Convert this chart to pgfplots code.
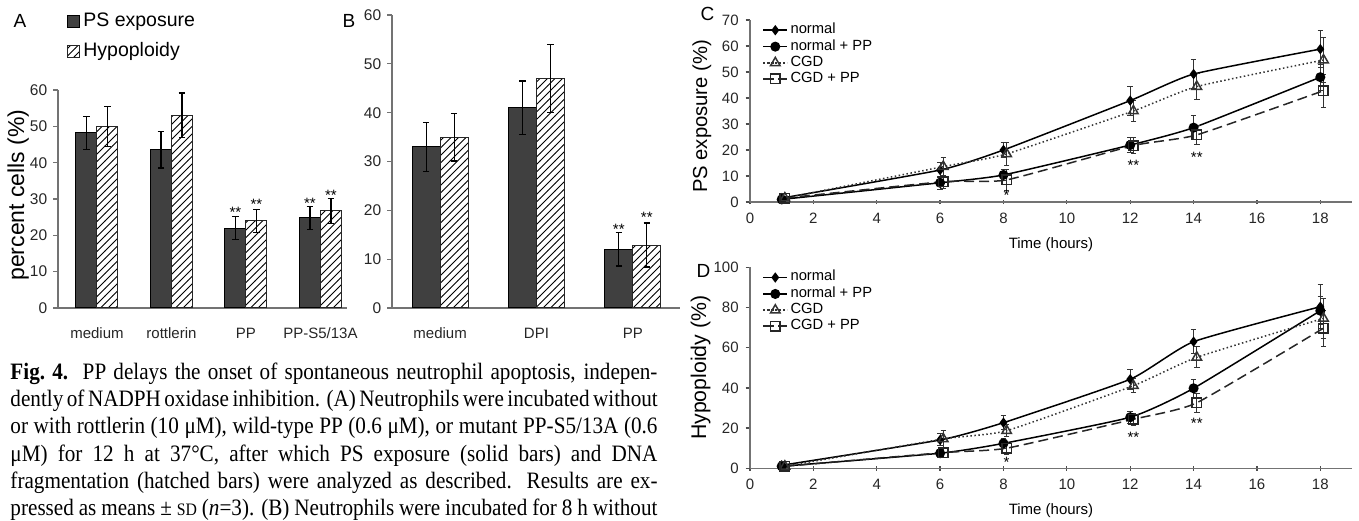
\documentclass[border=0pt]{standalone}
\usepackage{pgfplots}
\pgfplotsset{compat=1.18}
\usepackage{pgfplotstable}
\usetikzlibrary{patterns}
\usepackage{fontspec}
\setmainfont{Liberation Sans}
\newfontfamily\capfont[FakeStretch=0.9]{Liberation Serif}
\newcommand{\fs}[1]{\fontsize{#1}{#1}\selectfont}

% panel A: value, sd
\pgfplotstableread{
x ps   pse hy   hye
0 48.2 4.6 49.9 5.5
1 43.5 5.0 53.1 6.1
2 22.0 3.1 24.0 3.2
3 24.8 3.1 26.7 3.5
}\dataA
% panel B
\pgfplotstableread{
x ps   pse hy   hye
0 33.0 5.0 35.0 4.9
1 41.0 5.5 47.0 7.0
2 12.0 3.4 12.9 4.5
}\dataB
% panel C (time courses, PS exposure)
\pgfplotstableread{
t v e
1 1.5 0.5
6 12.3 3.0
8 20.0 3.0
12 39.0 5.6
14 49.2 5.7
18 58.8 7.0
}\CnA
\pgfplotstableread{
t v e
1 1.0 0.5
6 7.4 2.5
8 10.4 2.0
12 21.9 3.0
14 28.6 4.6
18 48.0 5.0
}\CnB
\pgfplotstableread{
t v e
1.1 1.5 0.5
6.1 13.6 3.5
8.1 18.5 4.5
12.1 35.0 4.0
14.1 44.4 5.0
18.1 54.6 8.5
}\CcA
\pgfplotstableread{
t v e
1.1 1.5 0.5
6.1 7.8 2.5
8.1 8.5 4.0
12.1 21.7 3.0
14.1 25.8 3.5
18.1 42.8 6.3
}\CcB
% panel D (hypoploidy)
\pgfplotstableread{
t v e
1 1.5 0.5
6 14.1 3.0
8 22.7 3.4
12 44.3 5.0
14 63.0 6.0
18 80.4 11.0
}\DnA
\pgfplotstableread{
t v e
1 1.0 0.5
6 7.5 2.0
8 12.4 2.5
12 25.4 3.0
14 39.8 4.5
18 78.4 7.0
}\DnB
\pgfplotstableread{
t v e
1.1 1.0 0.5
6.1 14.6 4.4
8.1 18.7 3.0
12.1 41.1 3.5
14.1 55.2 5.3
18.1 74.6 10.0
}\DcA
\pgfplotstableread{
t v e
1.1 1.0 0.5
6.1 7.8 2.5
8.1 10.0 3.0
12.1 24.4 3.0
14.1 32.6 4.6
18.1 69.7 9.0
}\DcB

\pgfplotsset{
  common/.style={
    scale only axis, axis x line=bottom, axis y line=left,
    axis line style={-, black!55, line width=0.6pt},
    /pgf/number format/assume math mode=true,
    tick align=outside, clip=false,
  },
  barax/.style={
    common, ybar=0pt, ymin=0, ymax=60, ytick={0,10,...,60},
    xtick={0,1,2,3}, major x tick style={draw=none},
    ytick style={black!55, line width=0.5pt}, major tick length=2pt,
    yticklabel style={font=\fs{6.2}, black!85, xshift=1.2pt},
    xticklabel style={font=\fs{6}, black!85, yshift=-2.5pt},
  },
  errs/.style={error bars/.cd, y dir=both, y explicit,
    error bar style={black, line width=0.5pt},
    error mark options={rotate=90, mark size=1.3pt, black, line width=0.5pt}},
  dark/.style={fill=black!75, draw=black, errs},
  hatch/.style={pattern=north east lines, draw=black!85, errs},
  lineax/.style={
    common, xmin=0, xmax=19, xtick={0,2,...,18},
    major tick length=1.8pt, xtick align=center,
    tick style={black!70, line width=0.5pt},
    ticklabel style={font=\fs{6}, black!85},
    yticklabel style={xshift=0.8pt},
    xlabel={Time (hours)}, label style={font=\fs{6}},
    legend style={draw=none, fill=none, font=\fs{5.9}, anchor=north west,
      inner sep=0pt, row sep=-1.2pt, nodes={inner sep=1pt}},
    legend cell align=left,
    legend image code/.code={\draw[mark repeat=2, mark phase=2, ##1]
      plot coordinates {(0pt,0pt) (4.8pt,0pt) (9.6pt,0pt)};},
  },
  lerr/.style={error bars/.cd, y dir=both, y explicit,
    error bar style={solid, black!80, line width=0.4pt},
    error mark options={rotate=90, mark size=1.1pt, solid, black!80, line width=0.4pt}},
  sN/.style={black, line width=0.6pt, smooth, tension=0.3, mark=diamond*, mark size=1.6pt, mark options={solid}, lerr},
  sNP/.style={black, line width=0.6pt, smooth, tension=0.3, mark=*, mark size=1.7pt, mark options={solid}, lerr},
  sC/.style={black!80, line width=0.6pt, densely dotted, smooth, tension=0.3, mark=triangle, mark size=2.2pt, mark options={solid, fill=white}, lerr},
  sCP/.style={black!85, line width=0.6pt, dash pattern=on 4pt off 2pt, smooth, tension=0.3, mark=square, mark size=1.9pt, mark options={solid, fill=white}, lerr},
}

\begin{document}
\begin{tikzpicture}
\path[use as bounding box] (0,0) rectangle (543.6pt,208.4pt);

% ---------------- A
\begin{axis}[barax, at={(23.2pt,85.2pt)}, anchor=south west,
  width=115.6pt, height=87.2pt, xmin=-0.523, xmax=3.356, bar width=8.4pt,
  xticklabels={medium, rottlerin, PP, PP-S5/13A},
  ylabel={percent cells (\%)},
  ylabel style={font=\fs{9.2}, at={(axis description cs:-0.138,0.518)}, anchor=center},
  legend style={at={(0.028,1.375)}, anchor=north west, draw=none, fill=none,
    font=\fs{7.8}, inner sep=0pt, row sep=2pt, nodes={inner sep=1.5pt}},
  legend cell align=left,
  legend image code/.code={\draw[#1] (0pt,-2.4pt) rectangle (4.8pt,2.4pt);},
]
\addplot[dark] table[x=x, y=ps, y error=pse]{\dataA};
\addplot[hatch] table[x=x, y=hy, y error=hye]{\dataA};
\legend{PS exposure, Hypoploidy}
\node[font=\fs{6}] at ([xshift=-4.2pt,yshift=-1.4pt]axis cs:2,27.3) {**};
\node[font=\fs{6}] at ([xshift=4.2pt,yshift=-1.4pt]axis cs:2,29.5) {**};
\node[font=\fs{6}] at ([xshift=-4.2pt,yshift=-1.4pt]axis cs:3,29.9) {**};
\node[font=\fs{6}] at ([xshift=4.2pt,yshift=-1.4pt]axis cs:3,32.1) {**};
\end{axis}

% ---------------- B
\begin{axis}[barax, at={(156.8pt,85.2pt)}, anchor=south west,
  width=115.2pt, height=117.2pt, xmin=-0.5, xmax=2.49, bar width=11.2pt,
  xtick={0,1,2}, xticklabels={medium, DPI, PP},
]
\addplot[dark] table[x=x, y=ps, y error=pse]{\dataB};
\addplot[hatch] table[x=x, y=hy, y error=hye]{\dataB};
\node[font=\fs{6}] at ([xshift=-5.6pt,yshift=-1.4pt]axis cs:2,16.8) {**};
\node[font=\fs{6}] at ([xshift=5.6pt,yshift=-1.4pt]axis cs:2,19.2) {**};
\end{axis}

% ---------------- C
\begin{axis}[lineax, at={(300pt,127.6pt)}, anchor=south west,
  width=240.8pt, height=72.8pt, ymin=0, ymax=70, ytick={0,10,...,70},
  ylabel={PS exposure (\%)},
  ylabel style={font=\fs{8.1}, at={(axis description cs:-0.08,0.47)}, anchor=center},
  xlabel style={at={(axis description cs:0.5,-0.236)}, anchor=center},
  legend style={at={(0.02,1.0)}},
]
\addplot[sN] table[x=t, y=v, y error=e]{\CnA};
\addplot[sNP] table[x=t, y=v, y error=e]{\CnB};
\addplot[sC] table[x=t, y=v, y error=e]{\CcA};
\addplot[sCP] table[x=t, y=v, y error=e]{\CcB};
\legend{normal, normal + PP, CGD, CGD + PP}
\node[font=\fs{6}] at ([yshift=-1.4pt]axis cs:8.1,4.0) {*};
\node[font=\fs{6}] at ([yshift=-1.4pt]axis cs:12.1,15.3) {**};
\node[font=\fs{6}] at ([yshift=-1.4pt]axis cs:14.1,18.4) {**};
\end{axis}

% ---------------- D
\begin{axis}[lineax, at={(300pt,21.08pt)}, anchor=south west,
  width=240.8pt, height=80.4pt, ymin=0, ymax=100, ytick={0,20,...,100},
  ylabel={Hypoploidy (\%)},
  ylabel style={font=\fs{8.5}, at={(axis description cs:-0.082,0.5)}, anchor=center},
  xlabel style={at={(axis description cs:0.5,-0.209)}, anchor=center},
  legend style={at={(0.02,1.0)}},
]
\addplot[sN] table[x=t, y=v, y error=e]{\DnA};
\addplot[sNP] table[x=t, y=v, y error=e]{\DnB};
\addplot[sC] table[x=t, y=v, y error=e]{\DcA};
\addplot[sCP] table[x=t, y=v, y error=e]{\DcB};
\legend{normal, normal + PP, CGD, CGD + PP}
\node[font=\fs{6}] at ([yshift=-1.4pt]axis cs:8.1,4.6) {*};
\node[font=\fs{6}] at ([yshift=-1.4pt]axis cs:12.1,17) {**};
\node[font=\fs{6}] at ([yshift=-1.4pt]axis cs:14.1,24) {**};
\end{axis}

% panel letters
\node[font=\fs{7.6}] at (8pt,200pt) {A};
\node[font=\fs{7.6}] at (139.6pt,200pt) {B};
\node[font=\fs{7.6}] at (283pt,202.8pt) {C};
\node[font=\fs{7.6}] at (281.4pt,100pt) {D};

% caption
\node[anchor=north west, inner sep=0pt] at (4pt,63.5pt) {\parbox{258.8pt}{%
\capfont\fontsize{9.4}{10.9}\selectfont
\makebox[\linewidth][s]{\textbf{Fig.\ 4.}\ \ PP delays the onset of spontaneous neutrophil apoptosis, indepen-}\\
\makebox[\linewidth][s]{dently of NADPH oxidase inhibition. (A) Neutrophils were incubated without}\\
\makebox[\linewidth][s]{or with rottlerin (10 μM), wild-type PP (0.6 μM), or mutant PP-S5/13A (0.6}\\
\makebox[\linewidth][s]{μM) for 12 h at 37°C, after which PS exposure (solid bars) and DNA}\\
\makebox[\linewidth][s]{fragmentation (hatched bars) were analyzed as described. Results are ex-}\\
\makebox[\linewidth][s]{pressed as means ± {\fontsize{7}{7}\selectfont SD} (\textit{n}=3). (B) Neutrophils were incubated for 8 h without}}};
\end{tikzpicture}
\end{document}
